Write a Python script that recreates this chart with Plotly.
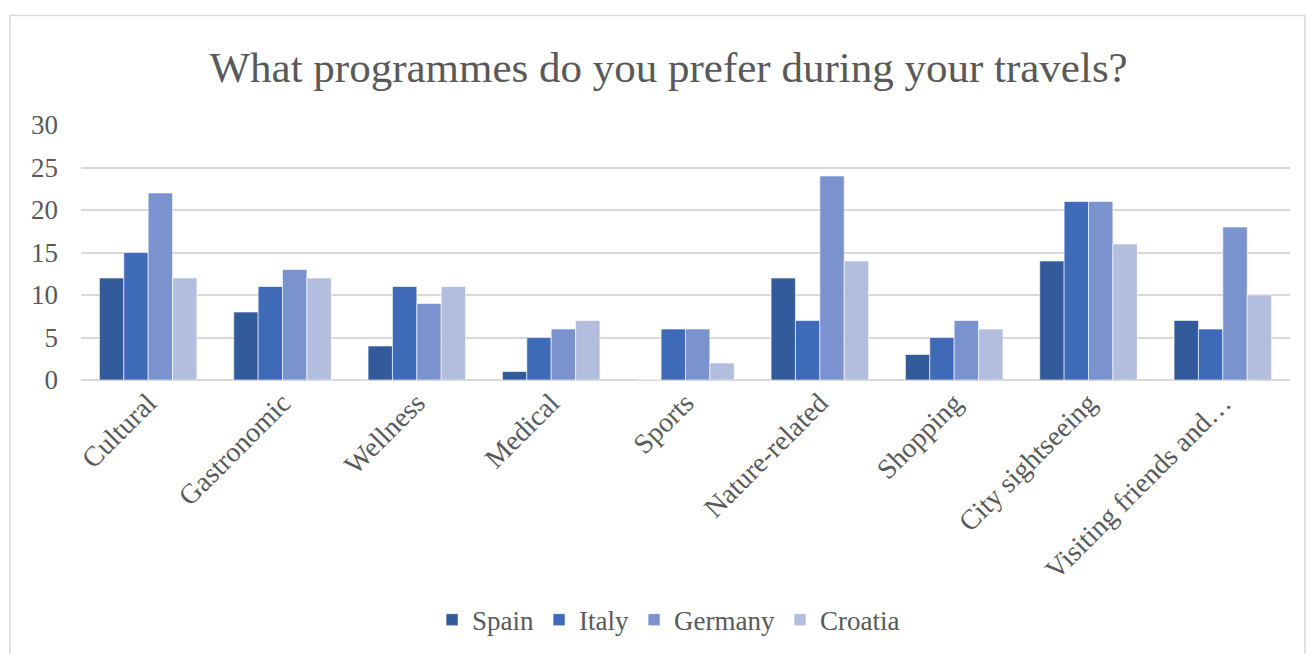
import plotly.graph_objects as go

categories = ["Cultural", "Gastronomic", "Wellness", "Medical", "Sports",
              "Nature-related", "Shopping", "City sightseeing", "Visiting friends and…"]
spain = [12, 8, 4, 1, 0, 12, 3, 14, 7]
italy = [15, 11, 11, 5, 6, 7, 5, 21, 6]
germany = [22, 13, 9, 6, 6, 24, 7, 21, 18]
croatia = [12, 12, 11, 7, 2, 14, 6, 16, 10]

series = [("Spain", spain, "#335A9A"), ("Italy", italy, "#3F6AB8"),
          ("Germany", germany, "#7A93CF"), ("Croatia", croatia, "#B3BEDF")]

FONT = "Liberation Serif, Times New Roman, serif"
TXT = "#595959"

fig = go.Figure()
for name, vals, col in series:
    fig.add_trace(go.Bar(x=categories, y=vals, name=name, marker_color=col,
                         marker_line=dict(color="rgba(255,255,255,0.6)", width=1)))

# outer chart frame
fig.add_shape(type="rect", xref="paper", yref="paper",
              x0=-0.0587, x1=1.0124, y0=-1.2, y1=1.4297,
              line=dict(color="#D9D9D9", width=1.5), layer="below")

fig.update_layout(
    width=1311, height=654,
    margin=dict(l=81, r=21, t=125, b=273),
    paper_bgcolor="white", plot_bgcolor="white",
    font=dict(family=FONT, color=TXT, size=27),
    title=dict(text="What programmes do you prefer during your travels?",
               x=0.51, xanchor="center", y=0.898, yanchor="middle",
               font=dict(size=43, color=TXT, family=FONT)),
    barmode="group", bargap=0.274, bargroupgap=0,
    showlegend=True,
    legend=dict(orientation="h", x=0.486, xanchor="center", y=-0.934, yanchor="middle",
                font=dict(size=27, color=TXT, family=FONT), itemwidth=30,
                traceorder="normal"),
    xaxis=dict(tickangle=-45, showgrid=False, showline=False, ticks="",
               tickfont=dict(size=28, family=FONT, color=TXT)),
    yaxis=dict(range=[0, 30], dtick=5, showgrid=True, gridcolor="#D9D9D9", gridwidth=2,
               zeroline=True, zerolinecolor="#D9D9D9", zerolinewidth=2,
               showline=False, ticks="", ticklabelstandoff=22,
               tickfont=dict(size=27, family=FONT, color=TXT)),
)

fig.write_html("out.html")
